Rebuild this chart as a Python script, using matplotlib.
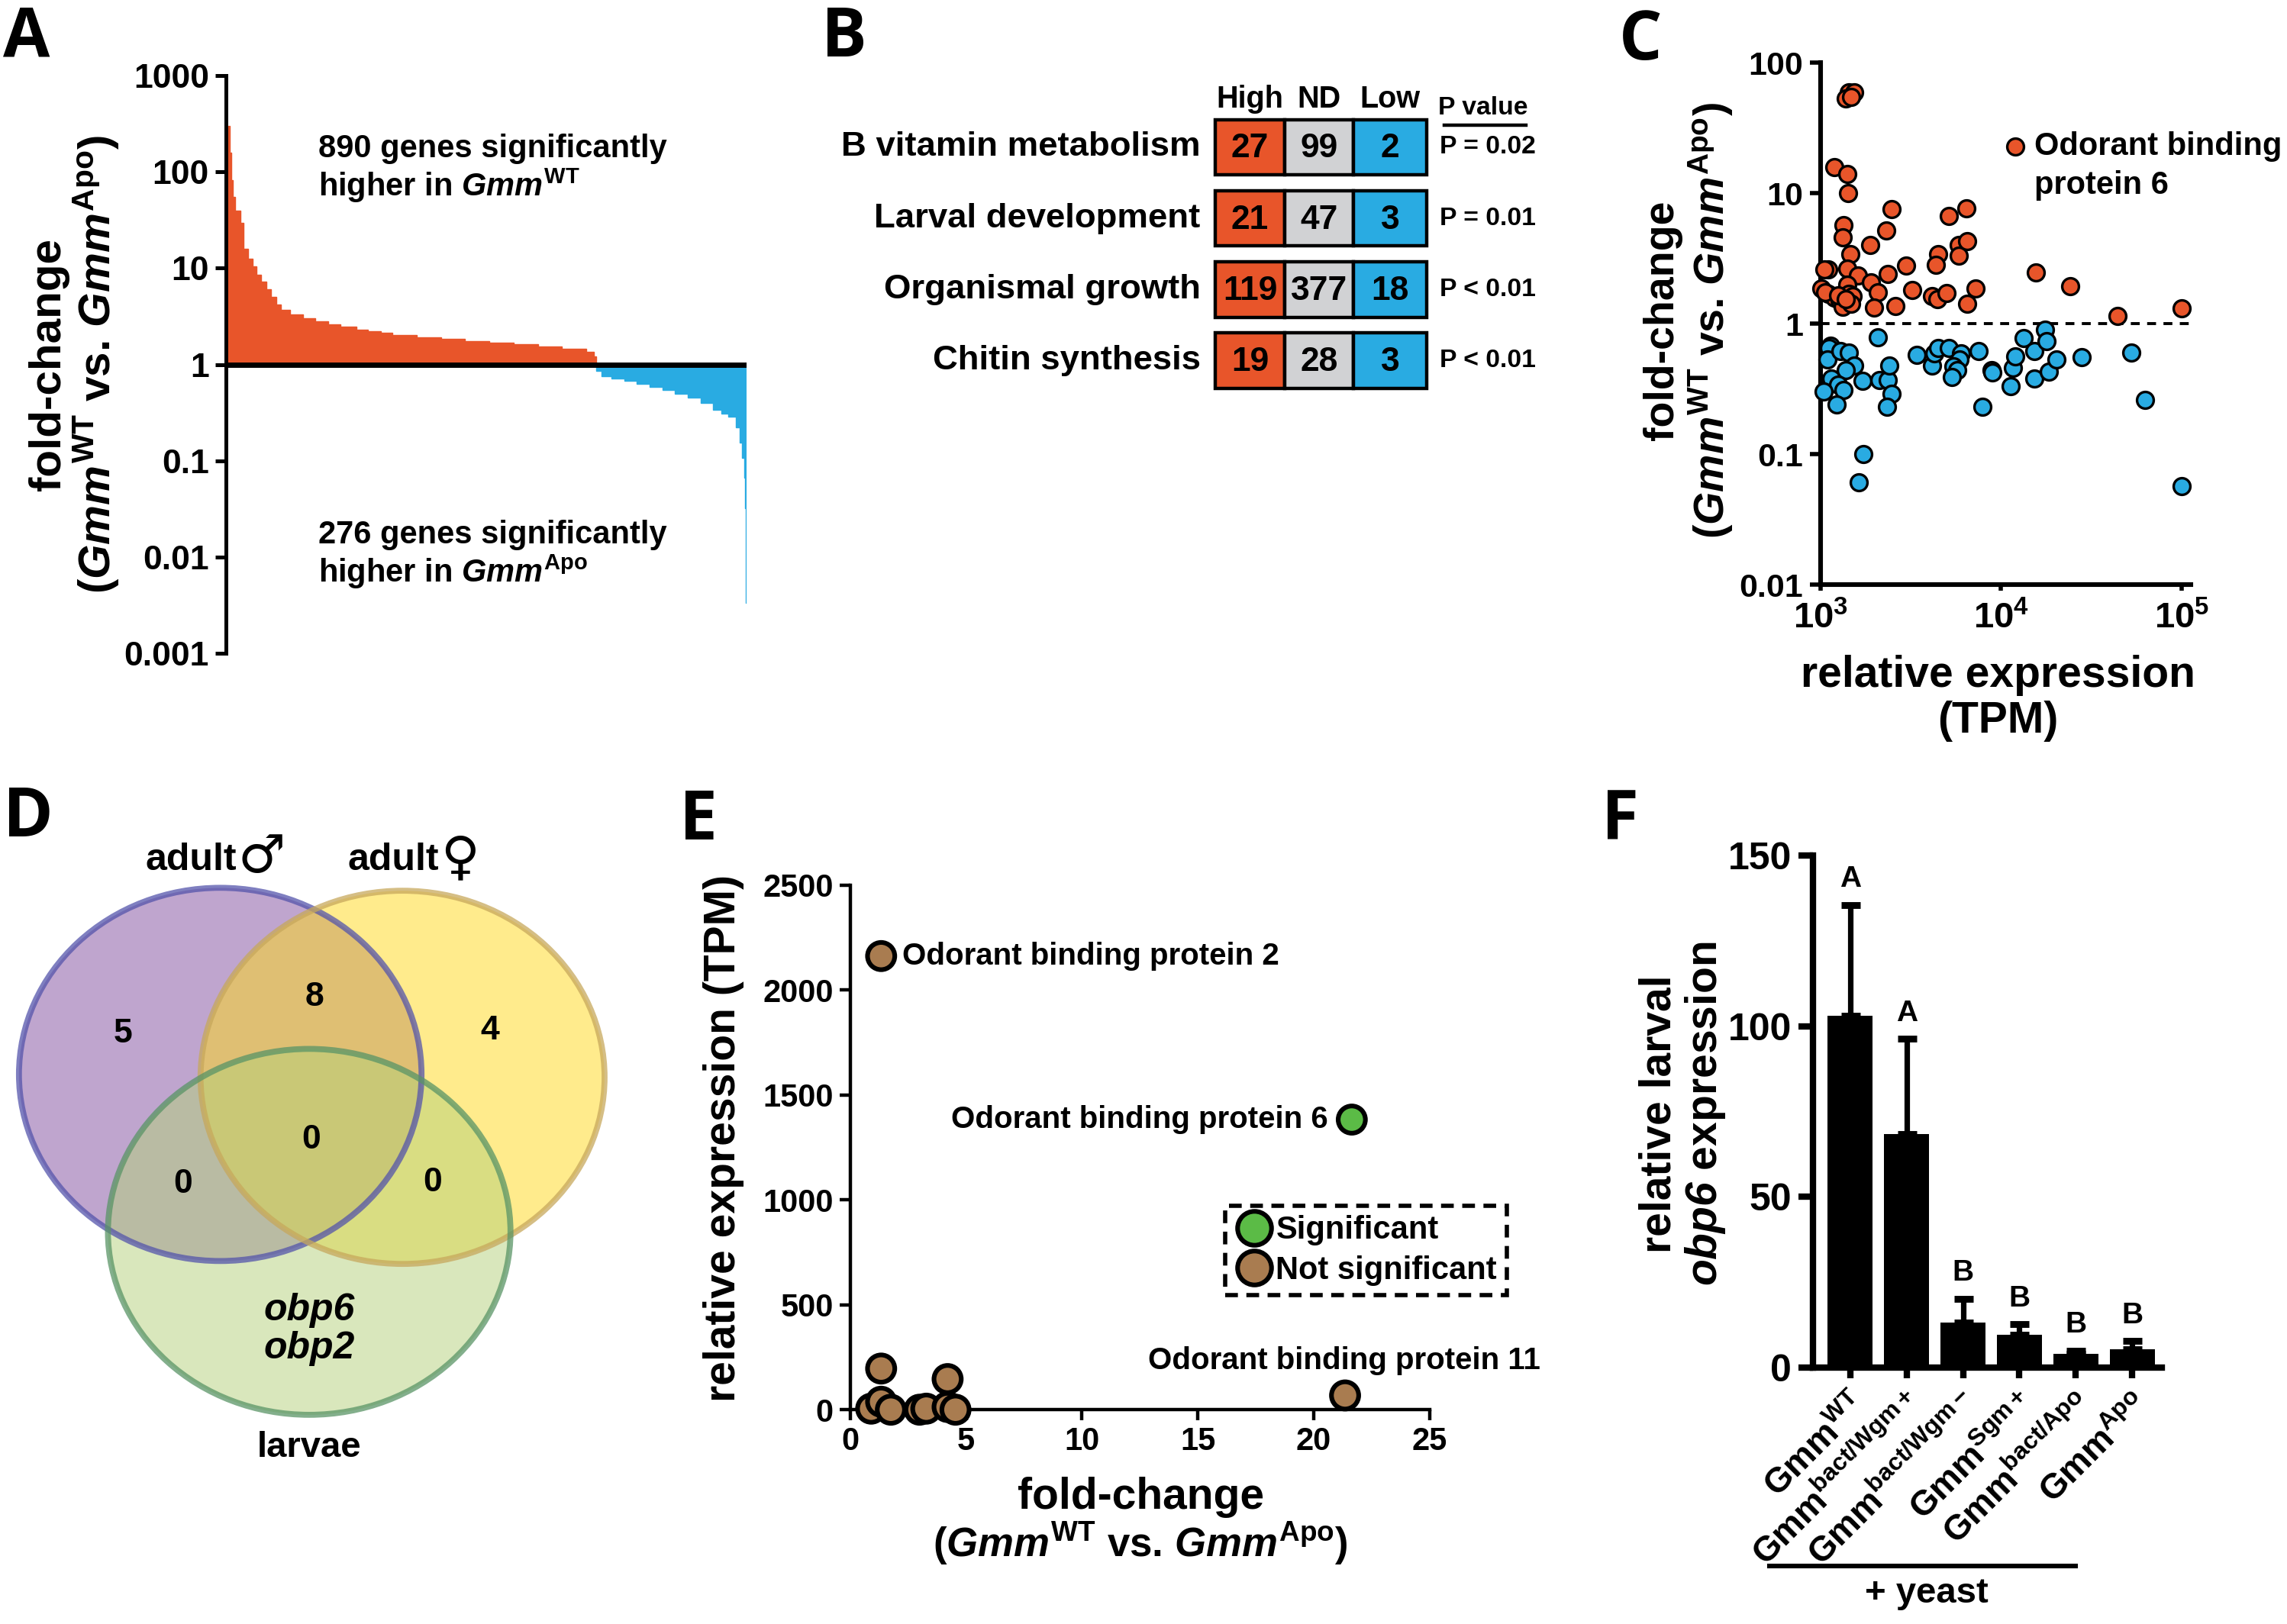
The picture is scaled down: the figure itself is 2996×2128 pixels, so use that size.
import numpy as np
import matplotlib
matplotlib.use('Agg')
import matplotlib.pyplot as plt
from matplotlib.patches import Rectangle, Ellipse
from matplotlib.lines import Line2D
from matplotlib import font_manager

plt.rcParams['font.family'] = ['Liberation Sans', 'DejaVu Sans']
plt.rcParams['font.weight'] = 'bold'
plt.rcParams['axes.labelweight'] = 'bold'
plt.rcParams['mathtext.fontset'] = 'custom'
plt.rcParams['mathtext.rm'] = 'Liberation Sans:bold'
plt.rcParams['mathtext.it'] = 'Liberation Sans:italic:bold'
plt.rcParams['mathtext.bf'] = 'Liberation Sans:bold'
plt.rcParams['mathtext.sf'] = 'Liberation Sans:italic:bold'  # italic incl. digits

ORANGE = '#e8552a'
BLUE = '#29abe2'
GREY = '#d1d2d4'
BROWN = '#a97c50'
GREEN = '#5bbb46'

# ---------- data ----------
# A: sorted fold-changes, (position along the x axis, fold-change)
a_up_pos = [0, 3, 6, 10, 15, 28, 37, 47, 58, 68, 79, 91, 103, 115, 127, 149, 180, 210, 240, 271,
            308, 337, 367, 396, 454, 513, 571, 630, 688, 747, 805, 864, 881]
a_up_fc = [300, 160, 82, 55, 40, 29.5, 16, 12.6, 10.4, 8.6, 7.2, 6.0, 5.0, 4.2, 3.7, 3.3, 3.0,
           2.8, 2.6, 2.45, 2.3, 2.2, 2.12, 2.03, 1.92, 1.83, 1.75, 1.69, 1.61, 1.53, 1.45, 1.36, 1.22]
a_down_pos = [888, 900, 924, 955, 986, 1016, 1047, 1078, 1109, 1140, 1170, 1190, 1207, 1225,
              1234, 1240, 1245, 1247, 1249]
a_down_fc = [0.85, 0.76, 0.71, 0.67, 0.63, 0.58, 0.54, 0.5, 0.45, 0.4, 0.34, 0.31, 0.285, 0.22,
             0.155, 0.107, 0.066, 0.032, 0.0033]
a_end = 1251

# B: GO categories
b_terms = ['B vitamin metabolism', 'Larval development', 'Organismal growth', 'Chitin synthesis']
b_high = [27, 21, 119, 19]
b_nd = [99, 47, 377, 28]
b_low = [2, 3, 18, 3]
b_pval = ['P = 0.02', 'P = 0.01', 'P < 0.01', 'P < 0.01']

# C: fold-change vs expression
c_up_tpm = [1435, 1542, 1380, 1479, 1194, 1409, 1426, 1349, 1327, 1466, 1104, 1409, 1611, 1010,
            1104, 1194, 1282, 1334, 1409, 1435, 1514, 1479, 1884, 1914, 2080, 1991, 2312, 2483,
            2360, 2594, 2985, 3221, 4498, 4355, 4140, 4426, 5164, 5000, 5808, 5834, 6412, 6486,
            7244, 6486, 15600, 24150, 43950, 100000, 1050, 1060, 1250, 1380]
c_up_fc = [59, 59, 53, 55, 15.9, 14.1, 10, 5.7, 4.6, 3.4, 2.6, 2.65, 2.33, 1.85, 1.69, 1.58, 1.5,
           1.35, 2.0, 1.69, 1.62, 1.43, 4.0, 2.08, 1.75, 1.33, 5.2, 7.5, 2.4, 1.36, 2.8, 1.81, 3.4,
           2.84, 1.63, 1.53, 6.7, 1.72, 4.0, 3.3, 7.6, 4.26, 1.85, 1.43, 2.47, 1.94, 1.15, 1.31,
           2.6, 1.75, 1.65, 1.55]
c_down_tpm = [1135, 1117, 1099, 1291, 1442, 1542, 1380, 1156, 1256, 1343, 1045, 1227, 1714, 2080,
              2128, 2360, 2415, 2472, 2350, 1734, 1637, 3428, 4159, 4256, 4498, 5140, 5998, 5902,
              5458, 5741, 5370, 7499, 7925, 8851, 8954, 11300, 11610, 11940, 13340, 15240, 15310,
              17500, 17820, 18410, 20320, 27930, 52480, 62370, 100000]
c_down_fc = [0.68, 0.65, 0.53, 0.62, 0.60, 0.48, 0.44, 0.38, 0.34, 0.31, 0.30, 0.24, 0.365, 0.79,
             0.37, 0.37, 0.48, 0.29, 0.23, 0.10, 0.061, 0.58, 0.48, 0.59, 0.65, 0.65, 0.59, 0.53,
             0.47, 0.44, 0.39, 0.62, 0.23, 0.44, 0.42, 0.33, 0.46, 0.56, 0.78, 0.38, 0.62, 0.90,
             0.73, 0.43, 0.53, 0.55, 0.6, 0.26, 0.057]

# D: venn counts
d_counts = {'male': '5', 'female': '4', 'male_female': '8', 'all': '0',
            'male_larvae': '0', 'female_larvae': '0'}
d_larvae_genes = ['obp6', 'obp2']

# E: odorant binding proteins
e_fc = [1.33, 21.65, 21.36, 1.33, 0.9, 1.33, 1.75, 2.99, 3.28, 4.2, 4.2, 4.54]
e_tpm = [2161, 1382, 68, 196, 5, 38, 0, 0, 5, 146, 13, 0]
e_sig = [False, True, False, False, False, False, False, False, False, False, False, False]

# F: obp6 expression
f_groups = ['WT', 'bact/Wgm+', 'bact/Wgm-', 'Sgm+', 'bact/Apo', 'Apo']
f_mean = [103.1, 68.5, 13.1, 9.6, 3.9, 5.4]
f_err = [32.5, 27.8, 7.0, 3.1, 1.0, 2.3]
f_letters = ['A', 'A', 'B', 'B', 'B', 'B']

# ---------- layout helpers (reference pixel grid) ----------
W, H = 1568, 1114
fig = plt.figure(figsize=(14.98, 10.64), dpi=200)


def rect(x0, y0, x1, y1):
    return [x0 / W, 1 - y1 / H, (x1 - x0) / W, (y1 - y0) / H]


def fx(x):
    return x / W


def fy(y):
    return 1 - y / H


def px_axes(x0, y0, x1, y1):
    ax = fig.add_axes(rect(x0, y0, x1, y1))
    ax.set_xlim(x0, x1)
    ax.set_ylim(y1, y0)
    ax.axis('off')
    return ax


gmm_label = r'($\mathit{Gmm}^{\mathrm{WT}}$ vs. $\mathit{Gmm}^{\mathrm{Apo}}$)'

# panel letters
for letter, (x, y) in zip('ABCDEF', [(2, 3), (563, 3), (1110, 5), (2, 538), (466, 540), (1098, 540)]):
    fig.text(fx(x), fy(y), letter, fontsize=32, fontweight='bold',
             family=['Open Sans', 'Liberation Sans'], ha='left', va='top')

# ---------- A ----------
axA = fig.add_axes(rect(155, 52, 512, 448))
up_w = np.diff(a_up_pos + [a_down_pos[0]])
down_w = np.diff(a_down_pos + [a_end])
axA.bar(a_up_pos, np.array(a_up_fc) - 1, bottom=1, width=up_w, align='edge',
        color=ORANGE, edgecolor=ORANGE, linewidth=0.5)
axA.bar(a_down_pos, np.array(a_down_fc) - 1, bottom=1, width=down_w, align='edge',
        color=BLUE, edgecolor=BLUE, linewidth=0.5)
axA.set_yscale('log')
axA.set_ylim(1e-3, 1e3)
axA.set_xlim(-6, a_end)
axA.axhline(1, color='black', lw=2.5)
for s in ['top', 'right', 'bottom']:
    axA.spines[s].set_visible(False)
axA.spines['left'].set_linewidth(1.8)
axA.set_xticks([])
axA.set_yticks([1e-3, 1e-2, 1e-1, 1, 10, 100, 1000])
axA.set_yticklabels(['0.001', '0.01', '0.1', '1', '10', '100', '1000'])
axA.yaxis.set_minor_locator(matplotlib.ticker.NullLocator())
axA.tick_params(axis='y', labelsize=16, width=1.8, length=5, pad=3)
fig.text(fx(51), fy(250), 'fold-change\n' + gmm_label, rotation=90, fontsize=21,
         ha='center', va='center', multialignment='center', linespacing=1.05)
fig.text(fx(218), fy(116), '890 genes significantly\nhigher in $\\mathit{Gmm}^{\\mathrm{WT}}$',
         fontsize=15, ha='left', va='center', linespacing=1.1)
fig.text(fx(218), fy(381), '276 genes significantly\nhigher in $\\mathit{Gmm}^{\\mathrm{Apo}}$',
         fontsize=15, ha='left', va='center', linespacing=1.1)

# ---------- B ----------
names = {f.name for f in font_manager.fontManager.ttflist}
if 'Liberation Sans Narrow' in names:
    b_family, b_k = ['Liberation Sans Narrow', 'DejaVu Sans'], 1.0
else:
    b_family, b_k = ['Liberation Sans', 'DejaVu Sans'], 0.84
axB = px_axes(560, 40, 1090, 290)
cell_x = [833, 881, 928, 978]
for i, term in enumerate(b_terms):
    yc = 101 + i * 48.8
    for j, (val, col) in enumerate(zip([b_high[i], b_nd[i], b_low[i]], [ORANGE, GREY, BLUE])):
        axB.add_patch(Rectangle((cell_x[j], yc - 19), cell_x[j + 1] - cell_x[j], 38,
                                facecolor=col, edgecolor='black', lw=1.6))
        axB.text((cell_x[j] + cell_x[j + 1]) / 2, yc + 1, str(val), ha='center', va='center',
                 fontsize=19 * b_k, family=b_family)
    axB.text(823, yc, term, ha='right', va='center', fontsize=19.5 * b_k, family=b_family)
    axB.text(987, yc, b_pval[i], ha='left', va='center', fontsize=14.5 * b_k, family=b_family)
for j, head in enumerate(['High', 'ND', 'Low']):
    axB.text((cell_x[j] + cell_x[j + 1]) / 2, 68, head, ha='center', va='center',
             fontsize=17 * b_k, family=b_family)
axB.text(1017, 74, 'P value', ha='center', va='center', fontsize=14.5 * b_k, family=b_family)
axB.plot([990, 1046], [86, 86], color='black', lw=1.6)

# ---------- C ----------
axC = fig.add_axes(rect(1248, 43, 1502, 401))
axC.set_xscale('log')
axC.set_yscale('log')
axC.set_xlim(1e3, 1.12e5)
axC.set_ylim(0.01, 100)
axC.axhline(1, color='black', lw=1.4, ls=(0, (3, 2.5)), zorder=1)
axC.scatter(c_up_tpm, c_up_fc, s=62, color=ORANGE, edgecolor='black', lw=1.2, zorder=3, clip_on=False)
axC.scatter(c_down_tpm, c_down_fc, s=62, color=BLUE, edgecolor='black', lw=1.2, zorder=3, clip_on=False)
for s in ['top', 'right']:
    axC.spines[s].set_visible(False)
for s in ['left', 'bottom']:
    axC.spines[s].set_linewidth(2.2)
axC.set_xticks([1e3, 1e4, 1e5])
axC.set_xticklabels(['$10^3$', '$10^4$', '$10^5$'])
axC.set_yticks([0.01, 0.1, 1, 10, 100])
axC.set_yticklabels(['0.01', '0.1', '1', '10', '100'])
axC.xaxis.set_minor_locator(matplotlib.ticker.NullLocator())
axC.yaxis.set_minor_locator(matplotlib.ticker.NullLocator())
axC.tick_params(axis='y', labelsize=15.5, width=2, length=5, pad=3)
axC.tick_params(axis='x', labelsize=17, width=2, length=3, pad=5)
axC.scatter([0.527], [0.84], s=62, color=ORANGE, edgecolor='black', lw=1.2,
            transform=axC.transAxes, clip_on=False)
axC.text(0.577, 0.84, 'Odorant binding', transform=axC.transAxes,
         fontsize=15, ha='left', va='center')
axC.text(0.577, 0.765, 'protein 6', transform=axC.transAxes,
         fontsize=15, ha='left', va='center')
fig.text(fx(1370), fy(479), 'relative expression\n(TPM)', fontsize=20.5, ha='center',
         va='center', linespacing=1.15)
fig.text(fx(1158), fy(220), 'fold-change\n' + gmm_label, rotation=90, fontsize=20,
         ha='center', va='center', multialignment='center', linespacing=1.1)

# ---------- D ----------
axD = px_axes(0, 560, 450, 1010)
circles = [((151, 737), 276, 256, (0.50, 0.30, 0.62), (0.33, 0.33, 0.67)),
           ((276, 739), 277, 256, (1.0, 0.85, 0.10), (0.78, 0.66, 0.36)),
           ((212, 845), 276, 251, (0.71, 0.82, 0.48), (0.35, 0.58, 0.40))]
for c, w, h, face, edge in circles:
    axD.add_patch(Ellipse(c, w, h, facecolor=face, alpha=0.5, lw=0))
for c, w, h, face, edge in circles:
    axD.add_patch(Ellipse(c, w, h, facecolor='none', edgecolor=edge, alpha=0.75, lw=2.8))
for key, (x, y) in {'male': (84.5, 709), 'male_female': (215.5, 684), 'female': (336, 707),
                    'all': (213.5, 782), 'male_larvae': (125.5, 812), 'female_larvae': (296.5, 811)}.items():
    axD.text(x, y, d_counts[key], fontsize=16, ha='center', va='center')
axD.text(212, 912, '\n'.join(d_larvae_genes), fontsize=18, fontstyle='italic',
         ha='center', va='center', linespacing=1.1)
axD.text(162, 590, 'adult', fontsize=18, ha='right', va='center')
axD.text(163, 588, '\u2642', fontsize=25, ha='left', va='center', family=['DejaVu Sans'])
axD.text(301, 590, 'adult', fontsize=18, ha='right', va='center')
axD.text(302, 589, '\u2640', fontsize=25, ha='left', va='center', family=['DejaVu Sans'])
axD.text(212, 993, 'larvae', fontsize=17, ha='center', va='center')

# ---------- E ----------
axE = fig.add_axes(rect(583, 607, 980, 967))
e_colors = [GREEN if s else BROWN for s in e_sig]
axE.scatter(e_fc, e_tpm, s=165, c=e_colors, edgecolor='black', lw=2.2, zorder=3, clip_on=False)
axE.set_xlim(0, 25)
axE.set_ylim(0, 2500)
for s in ['top', 'right']:
    axE.spines[s].set_visible(False)
for s in ['left', 'bottom']:
    axE.spines[s].set_linewidth(1.6)
axE.set_xticks([0, 5, 10, 15, 20, 25])
axE.set_yticks([0, 500, 1000, 1500, 2000, 2500])
axE.tick_params(labelsize=15, width=1.6, length=5, pad=3)
axE.text(2.25, e_tpm[0], 'Odorant binding protein 2', fontsize=14.5, ha='left', va='center')
axE.text(20.64, e_tpm[1], 'Odorant binding protein 6', fontsize=14.5, ha='right', va='center')
axE.text(12.85, 233, 'Odorant binding protein 11', fontsize=14.5, ha='left', va='center')
hs = [Line2D([], [], marker='o', ls='', ms=16, mfc=GREEN, mec='black', mew=2.2),
      Line2D([], [], marker='o', ls='', ms=16, mfc=BROWN, mec='black', mew=2.2)]
leg = axE.legend(hs, ['Significant', 'Not significant'], loc='upper left',
                 bbox_to_anchor=(0.647, 0.389), fontsize=15, handletextpad=0.05,
                 handlelength=1.25, borderpad=0.3, labelspacing=0.3, fancybox=False,
                 framealpha=1, edgecolor='black', borderaxespad=0)
leg.get_frame().set_linestyle((0, (3, 2)))
leg.get_frame().set_linewidth(2)
fig.text(fx(782), fy(1027), 'fold-change', fontsize=20.5, ha='center', va='center')
fig.text(fx(782), fy(1059), gmm_label, fontsize=19, ha='center', va='center')
fig.text(fx(496), fy(781), 'relative expression (TPM)', rotation=90, fontsize=20.5,
         ha='center', va='center')

# ---------- F ----------
axF = fig.add_axes(rect(1243, 587, 1482, 938))
xf = np.arange(len(f_groups))
axF.bar(xf, f_mean, width=0.8, color='black', zorder=2)
axF.errorbar(xf, f_mean, yerr=[np.zeros(len(f_err)), f_err], fmt='none', ecolor='black',
             elinewidth=2.6, capsize=4.5, capthick=3.2, zorder=2)
for x, m, e, lab in zip(xf, f_mean, f_err, f_letters):
    axF.text(x, m + e + 7.5, lab, fontsize=14, ha='center', va='center')
axF.set_xlim(-0.66, 5.52)
axF.set_ylim(0, 150)
for s in ['top', 'right']:
    axF.spines[s].set_visible(False)
for s in ['left', 'bottom']:
    axF.spines[s].set_linewidth(3)
axF.set_yticks([0, 50, 100, 150])
axF.set_xticks(xf)
axF.set_xticklabels(['$\\mathrm{Gmm}^{\\mathrm{%s}}$' % g for g in f_groups], rotation=45,
                    ha='right', rotation_mode='anchor', fontsize=16.5)
axF.tick_params(axis='y', labelsize=18, width=3, length=7, pad=3)
axF.tick_params(axis='x', width=3, length=5, pad=5)
fig.add_artist(Line2D([fx(1213), fx(1423)], [fy(1074), fy(1074)], color='black', lw=2.2,
                      transform=fig.transFigure))
fig.text(fx(1321), fy(1093), '+ yeast', fontsize=17, ha='center', va='center')
fig.text(fx(1154), fy(764), 'relative larval\n$\\mathsf{obp6}$ expression', rotation=90,
         fontsize=20.5, ha='center', va='center', multialignment='center', linespacing=1.1)

fig.savefig('out.png', dpi=200)
